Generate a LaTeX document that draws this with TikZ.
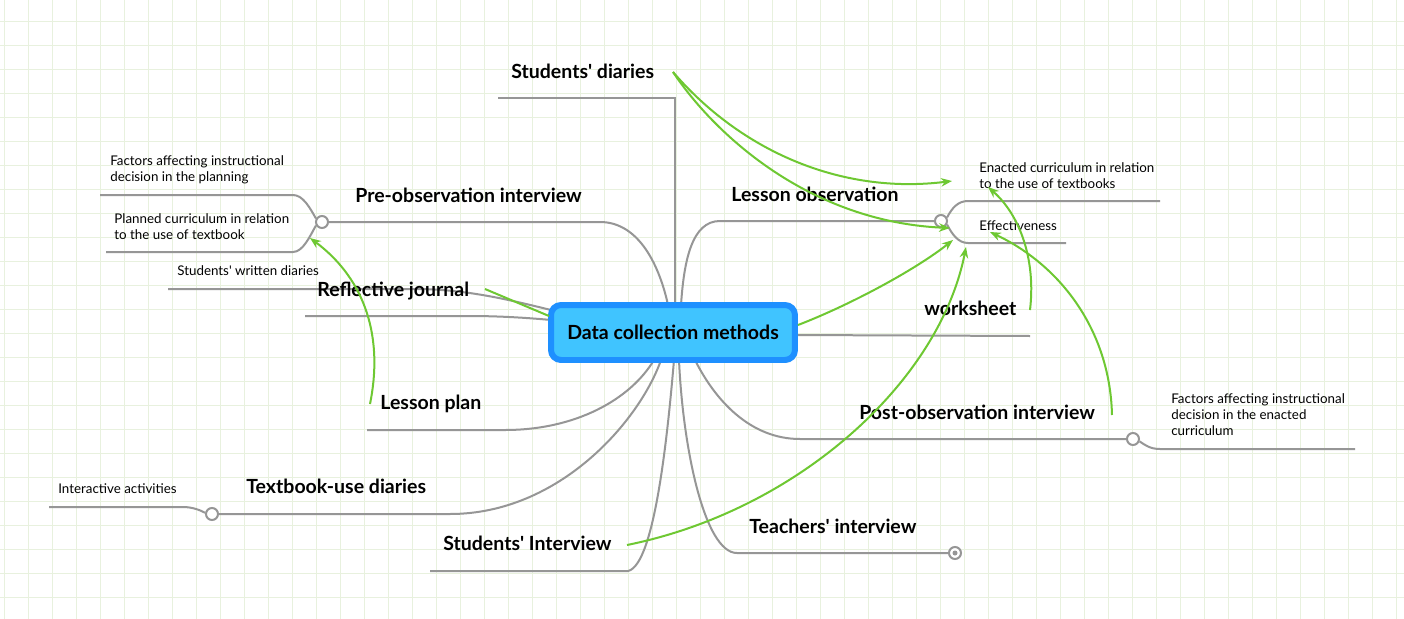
\documentclass[tikz,border=0pt]{standalone}
\usepackage{fontspec}
\setmainfont{Lato}
\usetikzlibrary{arrows.meta}

\definecolor{gridgreen}{RGB}{232,241,222}
\definecolor{branchgray}{RGB}{150,150,150}
\definecolor{relgreen}{RGB}{110,200,50}
\definecolor{hubblue}{RGB}{30,144,255}
\definecolor{hubfill}{RGB}{64,196,255}

\newcommand{\apos}{\textquotesingle}

\tikzset{
  branch/.style={draw=branchgray,line width=0.04cm},
  relation/.style={draw=relgreen,line width=0.04cm,-{Stealth[length=0.22cm,width=0.17cm]}},
  hub/.style={rounded corners=0.2cm,draw=hubblue,fill=hubfill,line width=0.12cm,
    minimum width=4.88cm,minimum height=1.1cm,inner sep=0pt,
    font=\fontsize{11.1}{13}\selectfont\bfseries},
  topic/.style={font=\fontsize{11.1}{13}\selectfont\bfseries,inner sep=0pt,anchor=base west},
  subtopic/.style={font=\fontsize{7.6}{9.07}\selectfont,inner sep=0pt,anchor=north west,align=left},
  knob/.style={circle,draw=branchgray,fill=white,line width=0.04cm,minimum size=0.24cm,inner sep=0pt},
}

\begin{document}
\begin{tikzpicture}[x=0.02cm,y=-0.02cm]
\useasboundingbox (0,0) rectangle (1404,619);
\fill[white] (0,0) rectangle (1404,619);
\foreach \gx in {4,28,...,1396}
\draw[gridgreen,line width=0.02cm] (\gx,0) -- (\gx,619);
\foreach \gy in {21.5,45.5,...,597.5}
\draw[gridgreen,line width=0.02cm] (0,\gy) -- (1404,\gy);

% points on the hub
\coordinate (h-sd) at (675,305);
\coordinate (h-pre) at (668,305);
\coordinate (h-lo) at (681,305);
\coordinate (h-swd) at (551,310);
\coordinate (h-rj) at (551,320);
\coordinate (h-ws) at (795,335);
\coordinate (h-lp) at (654,360);
\coordinate (h-tud) at (661,360);
\coordinate (h-si) at (674,360);
\coordinate (h-ti) at (679,360);
\coordinate (h-poi) at (695,360);

% ends of the branches
\coordinate (sd-a) at (498,98);
\coordinate (sd-b) at (675,98);
\coordinate (pre-b) at (600,222);
\coordinate (pre-u) at (293,195);
\coordinate (pre-ua) at (100,195);
\coordinate (pre-d) at (293,252);
\coordinate (pre-da) at (106,252);
\coordinate (lo-b) at (720,221);
\coordinate (lo-u) at (968,201);
\coordinate (lo-ua) at (1160,201);
\coordinate (lo-d) at (968,243);
\coordinate (lo-da) at (1066,243);
\coordinate (swd-a) at (168,289);
\coordinate (swd-b) at (420,289);
\coordinate (rj-a) at (305,316);
\coordinate (rj-b) at (470,316);
\coordinate (ws-b) at (1030,336);
\coordinate (lp-a) at (367,430);
\coordinate (lp-b) at (505,430);
\coordinate (tud-b) at (450,514);
\coordinate (tud-u) at (183,507);
\coordinate (tud-ua) at (49,507);
\coordinate (si-a) at (430,571);
\coordinate (si-b) at (628,571);
\coordinate (ti-b) at (737,553);
\coordinate (poi-b) at (800,439);
\coordinate (poi-d) at (1160,449);
\coordinate (poi-da) at (1355,449);

\node[knob] (pre-k) at (322,222) {};
\node[knob] (lo-k) at (941,221) {};
\node[knob] (poi-k) at (1133,439) {};
\node[knob] (tud-k) at (212,514) {};
\node[knob] (ti-k) at (955,553) {};

\draw[branch] (sd-a) -- (sd-b) -- (h-sd);
\draw[branch] (pre-k) -- (pre-b) .. controls (640,222) and (660,268) .. (h-pre);
\draw[branch] (pre-k.150) .. controls (310,208) and (303,195) .. (pre-u) -- (pre-ua);
\draw[branch] (pre-k.210) .. controls (310,236) and (303,252) .. (pre-d) -- (pre-da);
\draw[branch] (h-lo) .. controls (684,260) and (692,221) .. (lo-b) -- (lo-k);
\draw[branch] (lo-k.30) .. controls (952,208) and (958,201) .. (lo-u) -- (lo-ua);
\draw[branch] (lo-k.330) .. controls (952,234) and (958,243) .. (lo-d) -- (lo-da);
\draw[branch] (swd-a) -- (swd-b) .. controls (470,290) and (510,300) .. (h-swd);
\draw[branch] (rj-a) -- (rj-b) .. controls (500,316) and (530,318) .. (h-rj);
\draw[branch] (h-ws) -- (ws-b);
\draw[branch] (lp-a) -- (lp-b) .. controls (575,430) and (630,400) .. (h-lp);
\draw[branch] (tud-k) -- (tud-b) .. controls (560,514) and (640,420) .. (h-tud);
\draw[branch] (tud-k.170) .. controls (200,510) and (192,507) .. (tud-u) -- (tud-ua);
\draw[branch] (si-a) -- (si-b) .. controls (655,565) and (668,430) .. (h-si);
\draw[branch] (h-ti) .. controls (683,450) and (705,553) .. (ti-b) -- (ti-k);
\draw[branch] (h-poi) .. controls (715,400) and (750,439) .. (poi-b) -- (poi-k);
\draw[branch] (poi-k.340) .. controls (1145,445) and (1150,449) .. (poi-d) -- (poi-da);
\fill[branchgray] (ti-k.center) circle[radius=0.05cm];

\node[hub] (dcm) at (673,332.5) {Data collection methods};

\node[topic] (sdiar) at (511,78.5) {Students\apos{} diaries};
\node[topic] (preobs) at (355,202.5) {Pre-observation interview};
\node[topic] (lobs) at (731,201.5) {Lesson observation};
\node[topic] (refj) at (317,296.5) {Reflective journal};
\node[topic] (lplan) at (380,409.5) {Lesson plan};
\node[topic] (tbud) at (246,493.5) {Textbook-use diaries};
\node[topic] (sint) at (443,550.5) {Students\apos{} Interview};
\node[topic] (tint) at (749,533.5) {Teachers\apos{} interview};
\node[topic] (pobs) at (859,419.5) {Post-observation interview};
\node[topic] (wsht) at (924,315.5) {worksheet};

\node[subtopic] (fplan) at (110,155) {Factors affecting instructional\\decision in the planning};
\node[subtopic] (pcurr) at (114,213) {Planned curriculum in relation\\to the use of textbook};
\node[subtopic] (swdia) at (177,265) {Students\apos{} written diaries};
\node[subtopic] (ecurr) at (979,162) {Enacted curriculum in relation\\to the use of textbooks};
\node[subtopic] (effec) at (979,220) {Effectiveness};
\node[subtopic] (fenact) at (1171,393) {Factors affecting instructional\\decision in the enacted\\curriculum};
\node[subtopic] (iact) at (58,483) {Interactive activities};

% relationships
\coordinate (sd-r) at (673,72);
\coordinate (h-r) at (798,325);
\coordinate (si-r) at (627,545);
\coordinate (ws-r) at (1030,310);
\coordinate (poi-r) at (1112,415);
\coordinate (lp-r) at (370,404);
\coordinate (rj-r) at (485,289);
\coordinate (h-rj2) at (549,316);
\draw[relation] (sd-r) .. controls (740,150) and (840,195) .. (952,181);
\draw[relation] (sd-r) .. controls (715,135) and (810,222) .. (950,228);
\draw[relation] (h-r) .. controls (850,305) and (915,270) .. (953,240);
\draw[relation] (si-r) .. controls (800,510) and (940,380) .. (966,247);
\draw[relation] (ws-r) .. controls (1036,260) and (1020,215) .. (988,187);
\draw[relation] (poi-r) .. controls (1110,330) and (1060,265) .. (990,232);
\draw[relation] (lp-r) .. controls (385,330) and (360,275) .. (310,238);
\draw[relation,-] (rj-r) -- (h-rj2);
\end{tikzpicture}
\end{document}
